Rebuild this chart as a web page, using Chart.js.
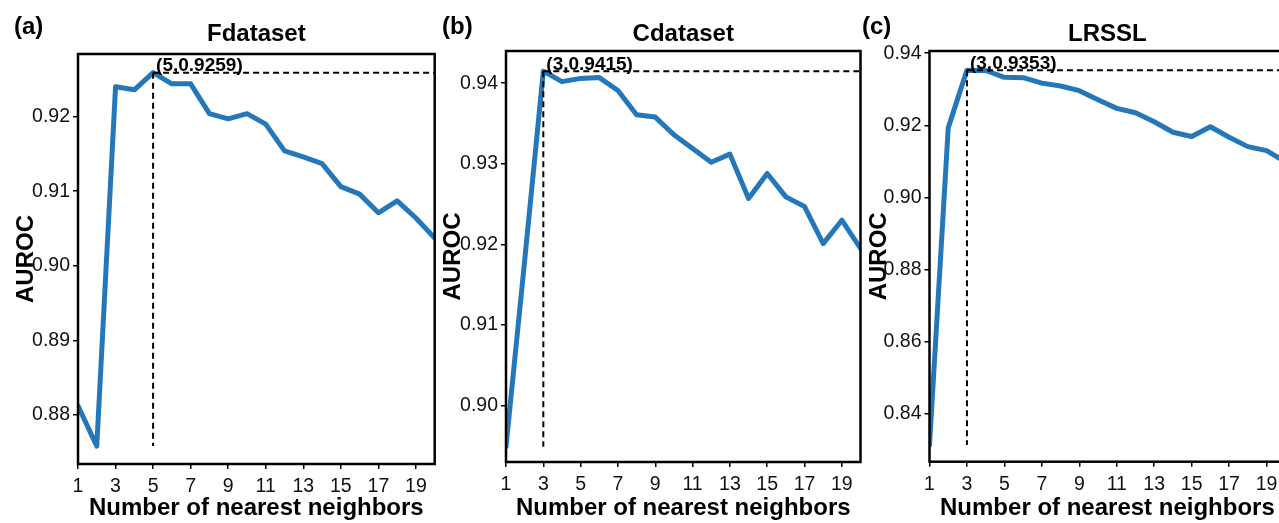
<!DOCTYPE html>
<html><head><meta charset="utf-8">
<script src="https://cdn.jsdelivr.net/npm/chart.js@4.4.1/dist/chart.umd.min.js"></script>
<style>
html,body{margin:0;padding:0;background:#fff;overflow:hidden;width:1279px;height:523px;}
canvas{position:absolute;top:0;}
</style></head><body>
<canvas id="ca"></canvas><canvas id="cb"></canvas><canvas id="cc"></canvas>
<script>
// ---------- data ----------
const neighbors = [1,2,3,4,5,6,7,8,9,10,11,12,13,14,15,16,17,18,19,20];
const xTickValues = [1,3,5,7,9,11,13,15,17,19];
const fdatasetAUROC = [0.8812,0.8758,0.9240,0.9236,0.9259,0.9244,0.9244,0.9204,0.9197,0.9204,0.9190,0.9154,0.9146,0.9137,0.9106,0.9096,0.9071,0.9087,0.9064,0.9037];
const cdatasetAUROC = [0.8949,0.9180,0.9415,0.9402,0.9406,0.9407,0.9391,0.9361,0.9358,0.9336,0.9319,0.9302,0.9312,0.9257,0.9288,0.9259,0.9247,0.9201,0.9230,0.9195];
const lrsslAUROC    = [0.8314,0.9193,0.9353,0.9352,0.9333,0.9332,0.9317,0.9309,0.9296,0.9271,0.9247,0.9235,0.9210,0.9181,0.9169,0.9196,0.9167,0.9141,0.9130,0.9099];
const yTicksF = [0.88,0.89,0.90,0.91,0.92];
const yTicksC = [0.90,0.91,0.92,0.93,0.94];
const yTicksL = [0.84,0.86,0.88,0.90,0.92,0.94];
const yRangeF = [0.8734,0.9284];
const yRangeC = [0.8930,0.9440];
const yRangeL = [0.8268,0.9406];
const bestF = [5,0.9259];
const bestC = [3,0.9415];
const bestL = [3,0.9353];
const titles = ['Fdataset','Cdataset','LRSSL'];
const panelLabels = ['(a)','(b)','(c)'];
const xTitle = 'Number of nearest neighbors';
const yTitle = 'AUROC';

// ---------- layout (pixels) ----------
const FONT = "'Liberation Sans', Arial, Helvetica, sans-serif";
const H = 523;
const layouts = [
  {id:'ca', left:0,   width:440, plotLeft:78,  plotRight:434.7, plotTop:54, plotBottom:464, labelX:14},
  {id:'cb', left:427, width:440, plotLeft:506, plotRight:860.5, plotTop:51, plotBottom:462, labelX:15},
  {id:'cc', left:853, width:440, plotLeft:929.5, plotRight:1285.3, plotTop:51, plotBottom:461.7, labelX:9}
];
const panels = [
  {values:fdatasetAUROC, yTicks:yTicksF, yRange:yRangeF, best:bestF},
  {values:cdatasetAUROC, yTicks:yTicksC, yRange:yRangeC, best:bestC},
  {values:lrsslAUROC,    yTicks:yTicksL, yRange:yRangeL, best:bestL}
];

panels.forEach((p, i) => {
  const L = layouts[i];
  const cv = document.getElementById(L.id);
  cv.width = L.width; cv.height = H;
  cv.style.left = L.left + 'px';
  cv.style.width = L.width + 'px'; cv.style.height = H + 'px';
  const yAxisW = L.plotLeft - L.left;
  const xAxisH = H - L.plotBottom;
  const padRight = L.left + L.width - L.plotRight;
  const minV = Math.min(...p.values);
  const lineData = neighbors.map((x, k) => ({x, y: p.values[k]}));
  const vDash = [{x:p.best[0], y:p.best[1]}, {x:p.best[0], y:minV}];
  const hDash = [{x:p.best[0], y:p.best[1]}, {x:neighbors[neighbors.length-1], y:p.best[1]}];

  const decor = {
    id:'decor'+i,
    afterDraw(chart){
      const ctx = chart.ctx, a = chart.chartArea;
      ctx.save();
      ctx.strokeStyle = '#000'; ctx.lineWidth = 2.5;
      ctx.strokeRect(a.left, a.top, a.right - a.left, a.bottom - a.top);
      ctx.fillStyle = '#000';
      ctx.font = 'bold 24px ' + FONT;
      ctx.textAlign = 'center'; ctx.textBaseline = 'alphabetic';
      ctx.fillText(titles[i], (a.left + a.right)/2, 41);
      ctx.textAlign = 'left';
      ctx.fillText(panelLabels[i], L.labelX, 34);
      const xs = chart.scales.x, ys = chart.scales.y;
      const px = xs.getPixelForValue(p.best[0]), py = ys.getPixelForValue(p.best[1]);
      ctx.font = 'bold 19px ' + FONT;
      ctx.fillText('(' + p.best[0] + ',' + p.best[1].toFixed(4) + ')', px + 3, py - 1.5);
      ctx.restore();
    }
  };

  new Chart(cv, {
    type:'line',
    data:{datasets:[
      {data:vDash, borderColor:'#000', borderWidth:2, borderDash:[6,4], pointRadius:0, fill:false, clip:false},
      {data:hDash, borderColor:'#000', borderWidth:2, borderDash:[6,4], pointRadius:0, fill:false},
      {data:lineData, borderColor:'#2478ba', borderWidth:5, pointRadius:0, tension:0, fill:false, borderJoinStyle:'round', borderCapStyle:'round'}
    ]},
    options:{
      responsive:false, animation:false, devicePixelRatio:1,
      layout:{padding:{left:0, top:L.plotTop, right:padRight, bottom:0}},
      plugins:{legend:{display:false}, tooltip:{enabled:false}, title:{display:false}},
      scales:{
        x:{type:'linear', min:neighbors[0], max:neighbors[neighbors.length-1],
           afterBuildTicks(s){ s.ticks = xTickValues.map(v => ({value:v})); },
           afterFit(s){ s.height = xAxisH; },
           grid:{drawOnChartArea:false, drawTicks:true, tickLength:5, color:'#000', lineWidth:1.5},
           border:{display:false},
           ticks:{color:'#111', font:{family:FONT, size:19.5}, padding:6, maxRotation:0, autoSkip:false, callback:v => String(v)},
           title:{display:true, text:xTitle, color:'#000', font:{family:FONT, size:24, weight:'bold'}, padding:{top:0,bottom:0}}
        },
        y:{type:'linear', min:p.yRange[0], max:p.yRange[1],
           afterBuildTicks(s){ s.ticks = p.yTicks.map(v => ({value:v})); },
           afterFit(s){ s.width = yAxisW; },
           grid:{drawOnChartArea:false, drawTicks:true, tickLength:5, color:'#000', lineWidth:1.5},
           border:{display:false},
           ticks:{color:'#111', font:{family:FONT, size:19.5}, padding:3, autoSkip:false, callback:v => Number(v).toFixed(2)},
           title:{display:true, text:yTitle, color:'#000', font:{family:FONT, size:24, weight:'bold'}, padding:{top:12,bottom:0}}
        }
      }
    },
    plugins:[decor]
  });
});
</script>
</body></html>
